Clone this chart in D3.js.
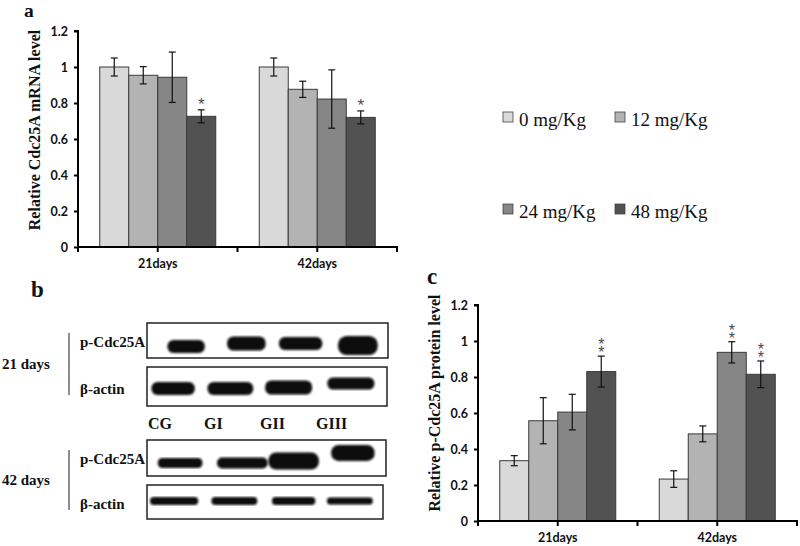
<!DOCTYPE html>
<html><head><meta charset="utf-8">
<script src="https://cdn.jsdelivr.net/npm/d3@7"></script>
<style>body{margin:0;background:#fff}svg{display:block}</style>
</head><body><svg id="c" width="800" height="546"></svg>
<script>
// ---------- data ----------
const groups = ["21days", "42days"];
const doses = ["0 mg/Kg", "12 mg/Kg", "24 mg/Kg", "48 mg/Kg"];
const yTickValues = [0, 0.2, 0.4, 0.6, 0.8, 1.0, 1.2];
const yTickLabels = ["0", "0.2", "0.4", "0.6", "0.8", "1", "1.2"];
// panel a: relative Cdc25A mRNA level
const mrna21 = [1.00, 0.954, 0.943, 0.726];
const mrna42 = [1.00, 0.876, 0.822, 0.720];
const mrnaErr21 = [0.05, 0.048, 0.14, 0.036];
const mrnaErr42 = [0.05, 0.045, 0.162, 0.036];
const mrnaSig21 = ["", "", "", "*"];
const mrnaSig42 = ["", "", "", "*"];
// panel c: relative p-Cdc25A protein level
const prot21 = [0.335, 0.557, 0.605, 0.830];
const prot42 = [0.233, 0.484, 0.937, 0.815];
const protErr21 = [0.028, 0.128, 0.099, 0.086];
const protErr42 = [0.046, 0.044, 0.059, 0.074];
const protSig21 = ["", "", "", "**"];
const protSig42 = ["", "", "**", "**"];
// panel b: western blot
const lanes = ["CG", "GI", "GII", "GIII"];
const blotTimes = ["21 days", "42 days"];
const blotProteins = ["p-Cdc25A", "β-actin"];
// band extent (relative width, thickness)
const bandW = [[0.62, 0.64, 0.72, 0.66], [0.72, 0.76, 0.78, 0.78], [0.74, 0.84, 0.84, 0.72], [0.80, 0.76, 0.72, 0.76]];
const bandH = [[13, 14, 13, 19], [13, 13, 14, 12], [10, 11, 17, 16], [8, 8, 8, 7]];

const colors = ["#d9d9d9", "#b3b3b3", "#868686", "#525252"];

// ---------- drawing ----------
const svg = d3.select("#c");
const serif = "'Liberation Serif', 'Times New Roman', serif";
const sans = "Lato, 'Open Sans', sans-serif";

function barPanel(o) {
  const g = svg.append("g");
  const x0 = d3.scaleBand().domain(groups).range([o.x0, o.x1]).padding(0);
  const x1 = d3.scaleBand().domain(doses).range([0, x0.bandwidth()]).paddingInner(0).paddingOuter(0.75);
  const y = d3.scaleLinear().domain([0, 1.2]).range([o.y0, o.y1]);
  const rows = groups.map((gname, gi) => doses.map((d, di) => ({
    g: gname, d, di, v: o.means[gi][di], e: o.errs[gi][di], s: o.sigs[gi][di]
  }))).flat();

  g.selectAll("rect.bar").data(rows).join("rect")
    .attr("x", r => x0(r.g) + x1(r.d)).attr("width", x1.bandwidth())
    .attr("y", r => y(r.v)).attr("height", r => y(0) - y(r.v))
    .attr("fill", r => colors[r.di]).attr("stroke", "#3a3a3a").attr("stroke-width", 1);

  const eb = g.selectAll("g.err").data(rows).join("g")
    .attr("transform", r => `translate(${x0(r.g) + x1(r.d) + x1.bandwidth() / 2},0)`);
  eb.append("line").attr("y1", r => y(r.v - r.e)).attr("y2", r => y(r.v + r.e))
    .attr("stroke", "#111").attr("stroke-width", 1.2);
  eb.append("line").attr("x1", -3.5).attr("x2", 3.5).attr("y1", r => y(r.v - r.e)).attr("y2", r => y(r.v - r.e))
    .attr("stroke", "#111").attr("stroke-width", 1.2);
  eb.append("line").attr("x1", -3.5).attr("x2", 3.5).attr("y1", r => y(r.v + r.e)).attr("y2", r => y(r.v + r.e))
    .attr("stroke", "#111").attr("stroke-width", 1.2);
  eb.filter(r => r.s.length > 0).each(function (r) {
    const top = y(r.v + r.e);
    const t = d3.select(this).append("text")
      .attr("font-family", "'Liberation Sans', Arial, sans-serif")
      .attr("fill", "#4a4a4a").text(r.s);
    if (o.stack) {
      // stacked vertically as in the reference
      t.attr("x", 0).attr("y", top - 20)
        .style("writing-mode", "vertical-rl").style("text-orientation", "upright")
        .attr("text-anchor", "start").attr("font-size", 16).attr("letter-spacing", -9);
    } else {
      t.attr("x", 0).attr("y", top).attr("text-anchor", "middle").attr("font-size", 17);
    }
  });

  // y axis
  const ya = d3.axisLeft(y).tickValues(yTickValues).tickFormat((d, i) => yTickLabels[i]).tickSize(4).tickPadding(6);
  const yg = g.append("g").attr("transform", `translate(${o.x0},0)`).call(ya);
  yg.select(".domain").attr("stroke", "#000").attr("stroke-width", 2).attr("d", `M-4,${o.y1}H0V${o.y0}`);
  yg.selectAll(".tick line").attr("stroke", "#000").attr("stroke-width", 2);
  yg.selectAll(".tick text").attr("font-family", sans).attr("font-weight", "bold").attr("font-size", 12.5).attr("fill", "#111");

  // x axis
  const tickPos = [o.x0, ...groups.map(gn => x0(gn) + x0.bandwidth() / 2), x0(groups[1]), o.x1];
  g.append("line").attr("x1", o.x0).attr("x2", o.x1 + 1).attr("y1", o.y0).attr("y2", o.y0).attr("stroke", "#000").attr("stroke-width", 2);
  g.selectAll("line.xt").data(tickPos).join("line").attr("x1", d => d).attr("x2", d => d)
    .attr("y1", o.y0 - 1).attr("y2", o.y0 + 5).attr("stroke", "#000").attr("stroke-width", 2);
  g.selectAll("text.xl").data(groups).join("text")
    .attr("x", gn => x0(gn) + x0.bandwidth() / 2).attr("y", o.y0 + 21)
    .attr("text-anchor", "middle").attr("font-family", sans).attr("font-weight", "bold").attr("font-size", 12.5)
    .attr("fill", "#111").text(d => d);

  // y title
  g.append("text").attr("transform", `translate(${o.titleX},${o.titleY}) rotate(-90)`)
    .attr("text-anchor", "middle").attr("font-family", serif).attr("font-weight", "bold").attr("font-size", 16)
    .attr("fill", "#111").text(o.title);
}

barPanel({
  x0: 78, x1: 397, y0: 247, y1: 31,
  means: [mrna21, mrna42], errs: [mrnaErr21, mrnaErr42], sigs: [mrnaSig21, mrnaSig42],
  title: "Relative Cdc25A mRNA level", titleX: 40, titleY: 130, stack: false
});
barPanel({
  x0: 478, x1: 797, y0: 521, y1: 305,
  means: [prot21, prot42], errs: [protErr21, protErr42], sigs: [protSig21, protSig42],
  title: "Relative p-Cdc25A protein level", titleX: 440, titleY: 403, stack: true
});

// panel letters
[["a", 24, 17, 19.5], ["b", 31, 297, 23], ["c", 427, 284, 23]].forEach(([t, x, y, fs]) =>
  svg.append("text").attr("x", x).attr("y", y).attr("font-family", serif).attr("font-weight", "bold")
    .attr("font-size", fs).attr("fill", "#111").text(t));

// legend
const leg = svg.append("g");
doses.forEach((d, i) => {
  const col = i % 2, row = Math.floor(i / 2);
  const gx = [503, 615][col], gy = [112, 204][row];
  leg.append("rect").attr("x", gx).attr("y", gy).attr("width", 10).attr("height", 10)
    .attr("fill", colors[i]).attr("stroke", "#444").attr("stroke-width", 0.8);
  leg.append("text").attr("x", gx + 16).attr("y", gy + 14).attr("font-family", serif)
    .attr("font-size", 19).attr("fill", "#111").text(d);
});

// panel b: blot
const blot = svg.append("g");
const lane = d3.scaleBand().domain(lanes).range([147, 388]);
const boxes = [
  { t: 0, p: 0, x0: 147, x1: 388, y0: 323, y1: 358 },
  { t: 0, p: 1, x0: 147, x1: 387, y0: 367, y1: 406 },
  { t: 1, p: 0, x0: 147, x1: 386, y0: 440, y1: 476 },
  { t: 1, p: 1, x0: 147, x1: 383, y0: 485, y1: 519 }
];
const bandDx = [[9, 9, 3, 0], [-4, -7, -9, -7], [3, 5, -4, -5], [-3, -3, -4, -8]];
const bandDy = [[6, 3, 3, 5], [2, 2, 1, -3], [5, 5, 3, -5], [-1, -1, -1, -1]];
const defs = svg.append("defs");
defs.append("filter").attr("id", "blur").append("feGaussianBlur").attr("stdDeviation", 0.9);
boxes.forEach((b, bi) => {
  blot.append("rect").attr("x", b.x0).attr("y", b.y0).attr("width", b.x1 - b.x0).attr("height", b.y1 - b.y0)
    .attr("fill", "#fff").attr("stroke", "#222").attr("stroke-width", 1.5);
  const cy = (b.y0 + b.y1) / 2;
  blot.selectAll(null).data(lanes).join("rect")
    .attr("x", (l, i) => lane(l) + lane.bandwidth() / 2 + bandDx[bi][i] - bandW[bi][i] * lane.bandwidth() / 2)
    .attr("width", (l, i) => bandW[bi][i] * lane.bandwidth())
    .attr("y", (l, i) => cy + bandDy[bi][i] - bandH[bi][i] / 2)
    .attr("height", (l, i) => bandH[bi][i])
    .attr("rx", (l, i) => bandH[bi][i] / 2.2)
    .attr("fill", "#0d0d0d").attr("filter", "url(#blur)");
  blot.append("text").attr("x", 80).attr("y", cy + (b.p === 0 ? 6 : 7)).attr("font-family", serif)
    .attr("font-weight", "bold").attr("font-size", 15).attr("fill", "#111").text(blotProteins[b.p]);
});
blotTimes.forEach((t, i) => {
  const yTop = [333, 450][i], yBot = [395, 510][i];
  blot.append("line").attr("x1", 69).attr("x2", 69).attr("y1", yTop).attr("y2", yBot).attr("stroke", "#444").attr("stroke-width", 1.2);
  blot.append("text").attr("x", 2).attr("y", (yTop + yBot) / 2 + 5).attr("font-family", serif)
    .attr("font-weight", "bold").attr("font-size", 15).attr("fill", "#111").text(t);
});
const laneLab = d3.scaleBand().domain(lanes).range([148, 372]);
blot.selectAll("text.lane").data(lanes).join("text")
  .attr("x", l => laneLab(l)).attr("y", 429).attr("font-family", serif).attr("font-weight", "bold")
  .attr("font-size", 16).attr("fill", "#111").text(l => l);
</script></body></html>
